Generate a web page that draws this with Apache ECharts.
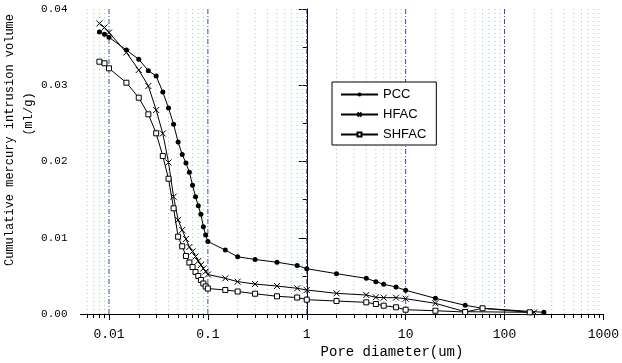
<!DOCTYPE html>
<html>
<head>
<meta charset="utf-8">
<script src="https://cdn.jsdelivr.net/npm/echarts@6/dist/echarts.min.js"></script>
<style>
html,body{margin:0;padding:0;background:#fff;}
#chart{width:622px;height:363px;}
</style>
</head>
<body>
<div id="chart"></div>
<script>
// ---- data (pore diameter in um, cumulative intrusion in ml/g) ----
const pccDiameter = [0.008,0.009,0.01,0.015,0.02,0.025,0.03,0.035,0.04,0.045,0.05,0.055,0.06,0.065,0.07,0.075,0.08,0.085,0.09,0.095,0.1,0.15,0.2,0.3,0.5,0.8,1,2,4,5,6,8,10,20,40,60,250];
const pccVolume = [0.0370,0.03668,0.03629,0.03462,0.0334,0.03191,0.03121,0.02911,0.02702,0.02488,0.02256,0.02092,0.0198,0.0186,0.01689,0.01538,0.01419,0.01309,0.01145,0.01036,0.00951,0.00839,0.00751,0.00715,0.00679,0.00636,0.00594,0.00529,0.00468,0.00424,0.0039,0.00354,0.00311,0.00206,0.00114,0.00075,0.00022];

const hfacDiameter = [0.008,0.009,0.01,0.015,0.02,0.025,0.03,0.035,0.04,0.045,0.05,0.055,0.06,0.065,0.07,0.075,0.08,0.085,0.09,0.095,0.1,0.15,0.2,0.3,0.5,0.8,1,2,4,5,6,8,10,20,40,200];
const hfacVolume = [0.0381,0.03757,0.03692,0.0343,0.032,0.0299,0.02675,0.02367,0.01987,0.01538,0.01233,0.01102,0.00984,0.00879,0.0082,0.00754,0.00695,0.00643,0.00597,0.00557,0.00518,0.00468,0.00424,0.00393,0.00367,0.00337,0.00315,0.00271,0.00249,0.00219,0.00214,0.00214,0.00201,0.0014,0.0003,0.00022];

const shfacDiameter = [0.008,0.009,0.01,0.015,0.02,0.025,0.03,0.035,0.04,0.045,0.05,0.055,0.06,0.065,0.07,0.075,0.08,0.085,0.09,0.095,0.1,0.15,0.2,0.3,0.5,0.8,1,2,4,5,6,8,10,20,40,60,180];
const shfacVolume = [0.03309,0.03288,0.03222,0.03033,0.02837,0.02619,0.0237,0.02072,0.01774,0.01386,0.01014,0.00888,0.00761,0.00675,0.00616,0.00551,0.00498,0.00446,0.004,0.00361,0.00334,0.00315,0.00295,0.00266,0.00232,0.00216,0.00188,0.0017,0.00153,0.00131,0.00109,0.00088,0.00056,0.00043,0.00026,0.00075,0.00022];

const seriesNames = ['PCC','HFAC','SHFAC'];

// ---- axis ticks ----
const xTickValues = [0.01,0.1,1,10,100,1000];
const xTickLabels = ['0.01','0.1','1','10','100','1000'];
const xMin = 0.005150, xMax = 1000;
const yMin = 0, yMax = 0.04;
const yTickLabels = ['0.00','0.01','0.02','0.03','0.04'];

// ---- build ----
const lg = v => Math.log10(v);
const majorPos = xTickValues.map(lg);
const minorVals = [];
for (let e = -3; e <= 2; e++) {
  for (let k = 2; k <= 9; k++) {
    const v = k * Math.pow(10, e);
    if (v > xMin && v < xMax) minorVals.push(v);
  }
}
const minorPos = minorVals.map(lg);
const pairs = (xs, ys) => xs.map((d, i) => [lg(d), ys[i]]);
// vertical grid segments, separated by gaps
const vLines = ps => {
  const out = [];
  ps.forEach(p => { out.push([p, yMin], [p, yMax], ['-', '-']); });
  return out;
};

const mono = '"Liberation Mono", "DejaVu Sans Mono", monospace';

const baseLine = {
  type: 'line',
  showSymbol: true,
  showAllSymbol: true,
  lineStyle: { color: '#000', width: 1 },
  z: 5,
  emphasis: { disabled: true },
  animation: false
};

const gridSeries = (name, ps, style, z) => ({
  name, type: 'line', data: vLines(ps), z, silent: true, animation: false,
  showSymbol: false, symbol: 'none', connectNulls: false, clip: false,
  lineStyle: style, emphasis: { disabled: true }, tooltip: { show: false }
});

const chart = echarts.init(document.getElementById('chart'), null, { renderer: 'canvas' });
chart.setOption({
  backgroundColor: '#fff',
  animation: false,
  grid: { left: 80.5, right: 18.5, top: 9, bottom: 49, containLabel: false },
  legend: {
    data: seriesNames,
    orient: 'vertical',
    left: 332, top: 82,
    borderColor: '#000', borderWidth: 1, borderRadius: 0,
    padding: [6, 10, 4, 8],
    itemWidth: 37, itemHeight: 5, itemGap: 7,
    textStyle: { fontFamily: '"Liberation Sans", Arial, sans-serif', fontSize: 13, color: '#000' },
    backgroundColor: '#fff'
  },
  xAxis: [
    {
      type: 'value', min: lg(xMin), max: lg(xMax), position: 'bottom',
      axisLine: { show: true, lineStyle: { color: '#000', width: 1 } },
      axisTick: { show: true, customValues: majorPos, length: 6, inside: false, lineStyle: { color: '#000' } },
      axisLabel: {
        show: true, customValues: majorPos, margin: 14,
        fontFamily: mono, fontSize: 13, color: '#000',
        formatter: v => { const i = majorPos.findIndex(p => Math.abs(p - v) < 1e-6); return i >= 0 ? xTickLabels[i] : ''; }
      },
      splitLine: { show: false }
    },
    {
      type: 'value', min: lg(xMin), max: lg(xMax), position: 'bottom',
      axisLine: { show: false },
      axisTick: { show: true, customValues: minorPos, length: 4, lineStyle: { color: '#000' } },
      axisLabel: { show: false },
      splitLine: { show: false }
    }
  ],
  yAxis: {
    type: 'value', min: yMin, max: yMax, interval: 0.01,
    axisLine: { show: true, lineStyle: { color: '#000', width: 1 } },
    axisTick: { show: true, length: 8, lineStyle: { color: '#000' } },
    minorTick: { show: true, splitNumber: 2, length: 4, lineStyle: { color: '#000' } },
    axisLabel: {
      fontFamily: mono, fontSize: 11, color: '#000', margin: 13,
      formatter: v => yTickLabels[Math.round(v / 0.01)]
    },
    splitLine: { show: false }
  },
  graphic: [
    { type: 'text', x: 10, y: 140, rotation: Math.PI / 2, silent: true,
      style: { text: 'Cumulative mercury intrusion volume', font: '12px ' + mono, fill: '#000', align: 'center', verticalAlign: 'middle' } },
    { type: 'text', x: 29, y: 114, rotation: Math.PI / 2, silent: true,
      style: { text: '(ml/g)', font: '12px ' + mono, fill: '#000', align: 'center', verticalAlign: 'middle' } },
    { type: 'text', x: 392, y: 352, silent: true,
      style: { text: 'Pore diameter(um)', font: '14px ' + mono, fill: '#000', align: 'center', verticalAlign: 'middle' } }
  ],
  series: [
    gridSeries('grid-minor', minorPos, { color: '#9ccf9c', type: [1, 3], width: 1 }, 1),
    gridSeries('grid-major', majorPos.filter(p => p < lg(xMax) - 1e-6), { color: '#4545a8', type: [5, 2, 1, 2], width: 1 }, 2),
    Object.assign({}, baseLine, {
      name: seriesNames[0], data: pairs(pccDiameter, pccVolume),
      symbol: 'circle', symbolSize: 5,
      itemStyle: { color: '#000' }
    }),
    Object.assign({}, baseLine, {
      name: seriesNames[1], data: pairs(hfacDiameter, hfacVolume),
      symbol: 'path://M0,0L10,10M10,0L0,10', symbolSize: 6,
      itemStyle: { color: '#000', borderColor: '#000', borderWidth: 1 }
    }),
    Object.assign({}, baseLine, {
      name: seriesNames[2], data: pairs(shfacDiameter, shfacVolume),
      symbol: 'rect', symbolSize: 5,
      itemStyle: { color: '#fff', borderColor: '#000', borderWidth: 1 }
    })
  ]
});
</script>
</body>
</html>
